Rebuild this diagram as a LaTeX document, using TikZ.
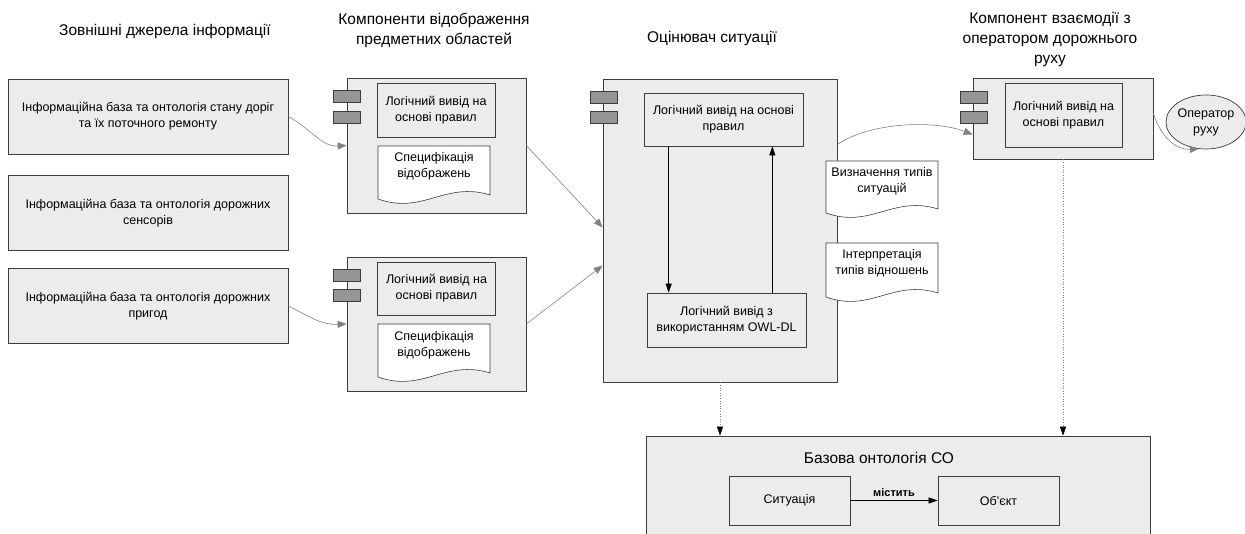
\documentclass[tikz,border=0pt]{standalone}
\usepackage{fontspec}
\setmainfont{Liberation Sans}
\usetikzlibrary{arrows.meta,shapes.geometric}
\definecolor{linec}{RGB}{60,60,60}
\definecolor{boxc}{RGB}{236,236,236}
\definecolor{tabc}{RGB}{150,150,150}
\definecolor{arrc}{RGB}{128,128,128}
\tikzset{bx/.append style={draw=linec, fill=boxc, line width=0.7pt, align=center, font=\fontsize{12.5}{16}\selectfont}}
\tikzset{src/.append style={bx, minimum width=280pt, minimum height=75pt}}
\tikzset{comp/.append style={draw=linec, fill=boxc, line width=0.7pt}}
\tikzset{tab/.append style={draw=linec, fill=tabc, line width=0.6pt, minimum width=27pt, minimum height=12pt, inner sep=0pt}}
\tikzset{doctxt/.append style={align=center, font=\fontsize{12.5}{16}\selectfont}}
\tikzset{docline/.append style={draw=linec, fill=white, line width=0.6pt}}
\tikzset{ttl/.append style={align=center, font=\fontsize{15.5}{20}\selectfont}}
\tikzset{flow/.append style={draw=arrc, line width=0.6pt, -{Triangle[length=9pt,width=7pt]}}}
\tikzset{ctl/.append style={draw=black, line width=0.6pt, -{Triangle[length=9pt,width=6pt]}}}
\tikzset{dep/.append style={draw=arrc, dotted, line width=0.6pt, -{Triangle[length=9pt,width=6pt,color=black]}}}
% document sheet: left, top, right, bottom
\newcommand{\docpath}[4]{\filldraw[docline] (#1,#2) -- (#3,#2) -- (#3,#4-4) .. controls (#3-45,#4-18) and (#1+45,#4+16) .. (#1,#4) -- cycle;}

\begin{document}
\begin{tikzpicture}[x=1pt,y=-1pt]
                \useasboundingbox (0,0) rectangle (1245,534);
                \clip (0,0) rectangle (1245,534);
                % titles
                \node[ttl] (t1) at (165,31) {Зовнішні джерела інформації};
                \node[ttl] (t2) at (434,30) {Компоненти відображення\\предметних областей};
                \node[ttl] (t3) at (712,38) {Оцінювач ситуації};
                \node[ttl] (t4) at (1050,39) {Компонент взаємодії з\\оператором дорожнього\\руху};
                % sources
                \node[src] (src1) at (148,116.5) {Інформаційна база та онтологія стану доріг\\та їх поточного ремонту};
                \node[src] (src2) at (148,213) {Інформаційна база та онтологія дорожних\\сенсорів};
                \node[src] (src3) at (148,306) {Інформаційна база та онтологія дорожних\\пригод};
                % mapping components
                \node[comp, minimum width=179pt, minimum height=135pt] (c1) at (436.5,145.5) {};
                \node[tab] (c1a) at (346.5,96.5) {};
                \node[tab] (c1b) at (346.5,117) {};
                \node[bx, minimum width=118pt, minimum height=54pt] (c1r) at (436,110) {Логічний вивід на\\основі правил};
                \docpath{378}{146}{490}{199}
                \node[doctxt] (c1s) at (434,166) {Специфікація\\відображень};
                \node[comp, minimum width=179pt, minimum height=134pt] (c2) at (436.5,324) {};
                \node[tab] (c2a) at (346.5,275.5) {};
                \node[tab] (c2b) at (346.5,295) {};
                \node[bx, minimum width=118pt, minimum height=53pt] (c2r) at (436.5,288.5) {Логічний вивід на\\основі правил};
                \docpath{378}{324}{490}{377}
                \node[doctxt] (c2s) at (434,345) {Специфікація\\відображень};
                % situation assessor
                \node[comp, minimum width=234pt, minimum height=303pt] (sit) at (720,230.5) {};
                \node[tab] (sita) at (603.5,97) {};
                \node[tab] (sitb) at (603.5,117) {};
                \node[bx, minimum width=159pt, minimum height=53pt] (sin1) at (723.5,119.5) {Логічний вивід на основі\\правил};
                \node[bx, minimum width=159pt, minimum height=54pt] (sin2) at (726.5,320) {Логічний вивід з\\використанням OWL-DL};
                \docpath{826}{161}{938}{213}
                \node[doctxt] (sd1) at (882,181) {Визначення типів\\ситуацій};
                \docpath{826}{243}{938}{297}
                \node[doctxt] (sd2) at (882,263) {Інтерпретація\\типів відношень};
                % operator component
                \node[comp, minimum width=180pt, minimum height=81pt] (op) at (1063,118.5) {};
                \node[tab] (opa) at (974,97) {};
                \node[tab] (opb) at (974,117) {};
                \node[bx, minimum width=117pt, minimum height=64pt] (oin) at (1063.5,115) {Логічний вивід на\\основі правил};
                \node[bx, ellipse, minimum width=76pt, minimum height=54pt, inner sep=0pt] (opr) at (1206,122) {Оператор\\руху};
                % base ontology
                \node[comp, minimum width=504pt, minimum height=124pt] (base) at (898,498) {};
                \node[ttl] (bt) at (879,458) {Базова онтологія СО};
                \node[bx, minimum width=121pt, minimum height=49pt] (sbox) at (789.5,500.5) {Ситуація};
                \node[bx, minimum width=121pt, minimum height=49pt] (obox) at (998.5,500.5) {Об’єкт};
                % connectors
                \draw[flow] (src1.east) .. controls (312,130) and (322,147) .. (c1.west);
                \draw[flow] (src3.east) .. controls (312,318) and (322,325) .. (c2.west);
                \draw[flow] (c1.east) -- ([yshift=3pt]sit.west);
                \draw[flow] (c2.east) -- ([yshift=-35pt]sit.west);
                \draw[flow] ([yshift=86pt]sit.east) .. controls (870,122) and (935,120) .. ([yshift=-16pt]op.west);
                \draw[flow] ([yshift=5pt]op.east) .. controls (1162,140) and (1178,150) .. (opr.255);
                \draw[ctl] ([xshift=25pt]sin1.south west) -- ([xshift=25pt]sin1.south west |- sin2.north);
                \draw[ctl] ([xshift=-34pt]sin2.north east) -- ([xshift=-34pt]sin2.north east |- sin1.south);
                \draw[dep] (sit.south) -- (sit.south |- base.north);
                \draw[dep] (op.south) -- (op.south |- base.north);
                \draw[ctl] (sbox) -- node[above, font=\bfseries\fontsize{11}{13}\selectfont] (cnt) {містить} (obox);
\end{tikzpicture}
\end{document}
